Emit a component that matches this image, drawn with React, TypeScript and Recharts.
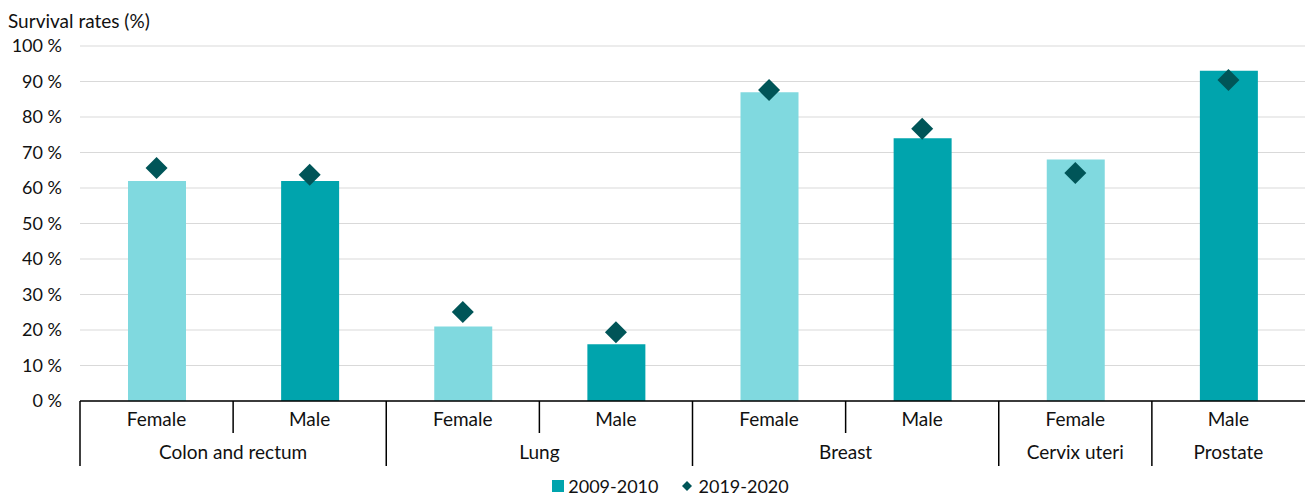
import React from 'react';
import { ComposedChart, Bar, Scatter, Cell, XAxis, YAxis, CartesianGrid, Legend } from 'recharts';

const sexes = ['Female', 'Male', 'Female', 'Male', 'Female', 'Male', 'Female', 'Male'];
const sites = ['Colon and rectum', 'Colon and rectum', 'Lung', 'Lung', 'Breast', 'Breast', 'Cervix uteri', 'Prostate'];
const rate2010 = [62, 62, 21, 16, 87, 74, 68, 93];
const rate2020 = [65.6, 63.7, 25.1, 19.4, 87.6, 76.7, 64.2, 90.4];
const yTicks = [0, 10, 20, 30, 40, 50, 60, 70, 80, 90, 100];

const data = sexes.map((sex, i) => ({
  key: `${sites[i]}|${sex}`,
  sex,
  site: sites[i],
  y2010: rate2010[i],
  y2020: rate2020[i],
}));

const FONT = 'Lato, sans-serif';
const LIGHT = '#80D9DF';
const DARK = '#00A4AD';
const DIAMOND = '#005558';

const W = 1305;
const H = 497;
const LEFT = 80;
const BAND = (W - LEFT) / data.length;

const Diamond = (props: any) => {
  const { cx, cy } = props;
  const r = 11;
  return <polygon points={`${cx},${cy - r} ${cx + r},${cy} ${cx},${cy + r} ${cx - r},${cy}`} fill={DIAMOND} />;
};

// two-level category axis: sex on the first row, cancer site underneath
const GroupTick = (props: any) => {
  const { x, y, index } = props;
  const row = data[index];
  const half = BAND / 2;
  const newGroup = index === 0 || data[index - 1].site !== row.site;
  let groupSize = 1;
  while (index + groupSize < data.length && data[index + groupSize].site === row.site) groupSize++;
  const groupCenter = x + (groupSize - 1) * half;
  return (
    <g>
      <line x1={x - half} x2={x - half} y1={y} y2={newGroup ? y + 65 : y + 32} stroke="#000" strokeWidth={1.5} />
      <text x={x} y={y + 25} textAnchor="middle" fontSize={19} fontFamily={FONT} fill="#111">
        {row.sex}
      </text>
      {newGroup && (
        <text x={groupCenter} y={y + 58} textAnchor="middle" fontSize={19} fontFamily={FONT} fill="#111">
          {row.site}
        </text>
      )}
    </g>
  );
};

const LegendContent = () => (
  <div style={{ display: 'flex', justifyContent: 'center', alignItems: 'center', fontFamily: FONT, fontSize: 18, lineHeight: '18px', color: '#111', paddingTop: 6, paddingLeft: 36 }}>
    <span style={{ display: 'inline-block', width: 12, height: 12, background: DARK, marginRight: 4 }} />
    <span style={{ marginRight: 22 }}>2009-2010</span>
    <svg width={12} height={12} style={{ marginRight: 6 }}>
      <polygon points="6,1 11,6 6,11 1,6" fill={DIAMOND} />
    </svg>
    <span>2019-2020</span>
  </div>
);

const App: React.FC = () => {
  return (
    <div style={{ position: 'relative', width: W, height: H, background: '#fff' }}>
      <style>{'body{margin:0}'}</style>
      <div style={{ position: 'absolute', left: 8, top: 10, fontFamily: FONT, fontSize: 19, lineHeight: '22px', color: '#111' }}>
        Survival rates (%)
      </div>
      <ComposedChart width={W} height={H} data={data} margin={{ top: 46, right: 0, bottom: 0, left: 0 }} barCategoryGap={0}>
        <CartesianGrid vertical={false} stroke="#d9d9d9" />
        <XAxis
          dataKey="key"
          interval={0}
          height={70}
          axisLine={{ stroke: '#000', strokeWidth: 1.5 }}
          tickLine={false}
          tickSize={0}
          tickMargin={0}
          tick={<GroupTick />}
        />
        <YAxis
          width={LEFT}
          domain={[0, 100]}
          ticks={yTicks}
          tickFormatter={(v: number) => `${v} %`}
          axisLine={false}
          tickLine={false}
          tickMargin={12}
          tick={{ fill: '#111', fontSize: 18, fontFamily: FONT }}
        />
        <Legend verticalAlign="bottom" height={26} content={<LegendContent />} />
        <Bar dataKey="y2010" name="2009-2010" barSize={58} isAnimationActive={false}>
          {data.map((d) => (
            <Cell key={d.key} fill={d.sex === 'Female' ? LIGHT : DARK} />
          ))}
        </Bar>
        <Scatter dataKey="y2020" name="2019-2020" shape={<Diamond />} isAnimationActive={false} />
      </ComposedChart>
    </div>
  );
};

export default App;
